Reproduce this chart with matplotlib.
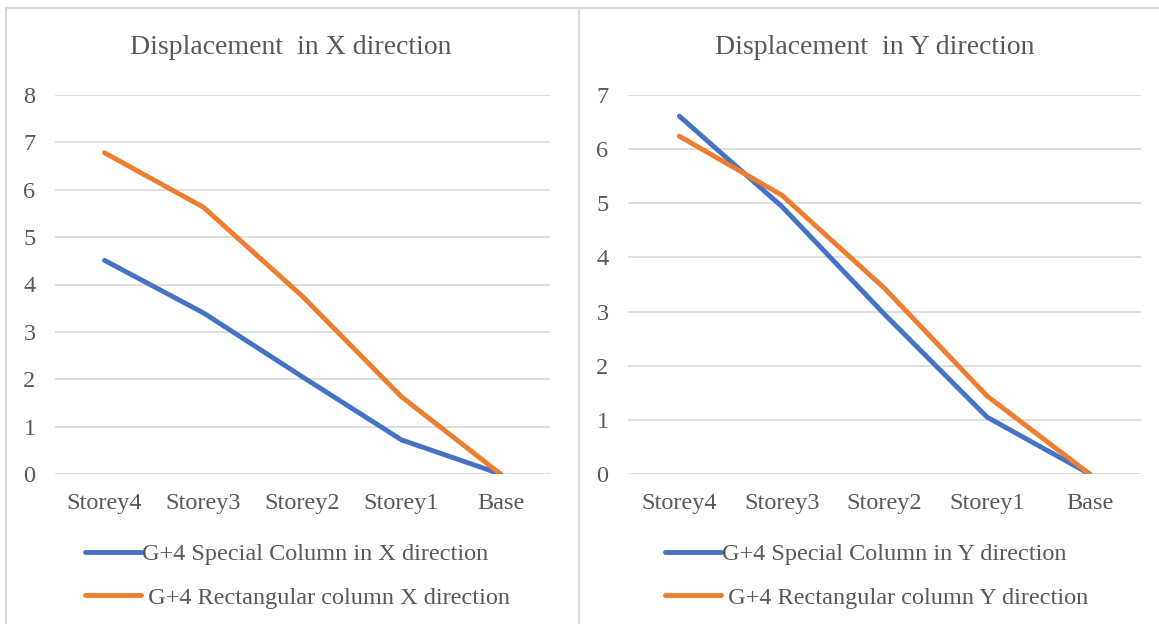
import matplotlib
matplotlib.use('Agg')
import matplotlib.pyplot as plt
from matplotlib.lines import Line2D

plt.rcParams['font.family'] = ['Liberation Serif', 'DejaVu Serif']

storeys = ['Storey4', 'Storey3', 'Storey2', 'Storey1', 'Base']

# displacement in X direction
special_x = [4.51, 3.40, 2.05, 0.72, 0.0]
rect_x = [6.78, 5.63, 3.75, 1.63, 0.0]

# displacement in Y direction
special_y = [6.61, 4.94, 2.95, 1.05, 0.0]
rect_y = [6.24, 5.15, 3.43, 1.44, 0.0]

blue = '#4472C4'
orange = '#ED7D31'
txt = '#595959'
grid = '#D9D9D9'

W, H = 1159, 624
fig = plt.figure(figsize=(W / 100, H / 100), dpi=100)


def px(x0, y0, x1, y1):
    # pixel box -> figure fraction [left, bottom, width, height]
    return [x0 / W, 1 - y1 / H, (x1 - x0) / W, (y1 - y0) / H]


panels = [
    dict(box=px(55, 95, 550, 474), ymax=8, s=special_x, r=rect_x,
         title='Displacement  in X direction', tx=291, lx=85,
         labs=['G+4 Special Column in X direction', ' G+4 Rectangular column X direction']),
    dict(box=px(628, 95, 1141, 474), ymax=7, s=special_y, r=rect_y,
         title='Displacement  in Y direction', tx=875, lx=665,
         labs=['G+4 Special Column in Y direction', ' G+4 Rectangular column Y direction']),
]

for p in panels:
    ax = fig.add_axes(p['box'])
    x = range(len(storeys))
    l1, = ax.plot(x, p['s'], color=blue, lw=3.5, solid_capstyle='round', solid_joinstyle='round')
    l2, = ax.plot(x, p['r'], color=orange, lw=3.5, solid_capstyle='round', solid_joinstyle='round')
    ax.set_xlim(-0.5, len(storeys) - 0.5)
    ax.set_ylim(0, p['ymax'])
    ax.set_yticks(range(p['ymax'] + 1))
    ax.set_xticks(list(x))
    ax.set_xticklabels(storeys)
    ax.yaxis.grid(True, color=grid, lw=1.2)
    ax.set_axisbelow(True)
    for s in ax.spines.values():
        s.set_visible(False)
    ax.tick_params(length=0, labelsize=17.5, colors=txt)
    ax.tick_params(axis='y', pad=14)
    ax.tick_params(axis='x', pad=14)
    for lab in ax.get_xticklabels() + ax.get_yticklabels():
        lab.set_color(txt)
    fig.text(p['tx'] / W, 1 - 47 / H, p['title'], ha='center', va='center',
             fontsize=20, color=txt)
    fig.legend([l1, l2], p['labs'], loc='upper left',
               bbox_to_anchor=(p['lx'] / W, 1 - 543 / H), frameon=False,
               fontsize=17.5, labelcolor=txt, handlelength=2.3, handletextpad=0.05,
               borderpad=0, borderaxespad=0, labelspacing=0.89)

# chart frames
fig.add_artist(Line2D([6 / W, 1], [1 - 8 / H, 1 - 8 / H], color=grid, lw=1.5))
fig.add_artist(Line2D([6 / W, 6 / W], [0, 1 - 8 / H], color=grid, lw=1.5))
fig.add_artist(Line2D([579 / W, 579 / W], [0, 1 - 8 / H], color=grid, lw=1.5))

fig.savefig('out.png', dpi=100, facecolor='white')
